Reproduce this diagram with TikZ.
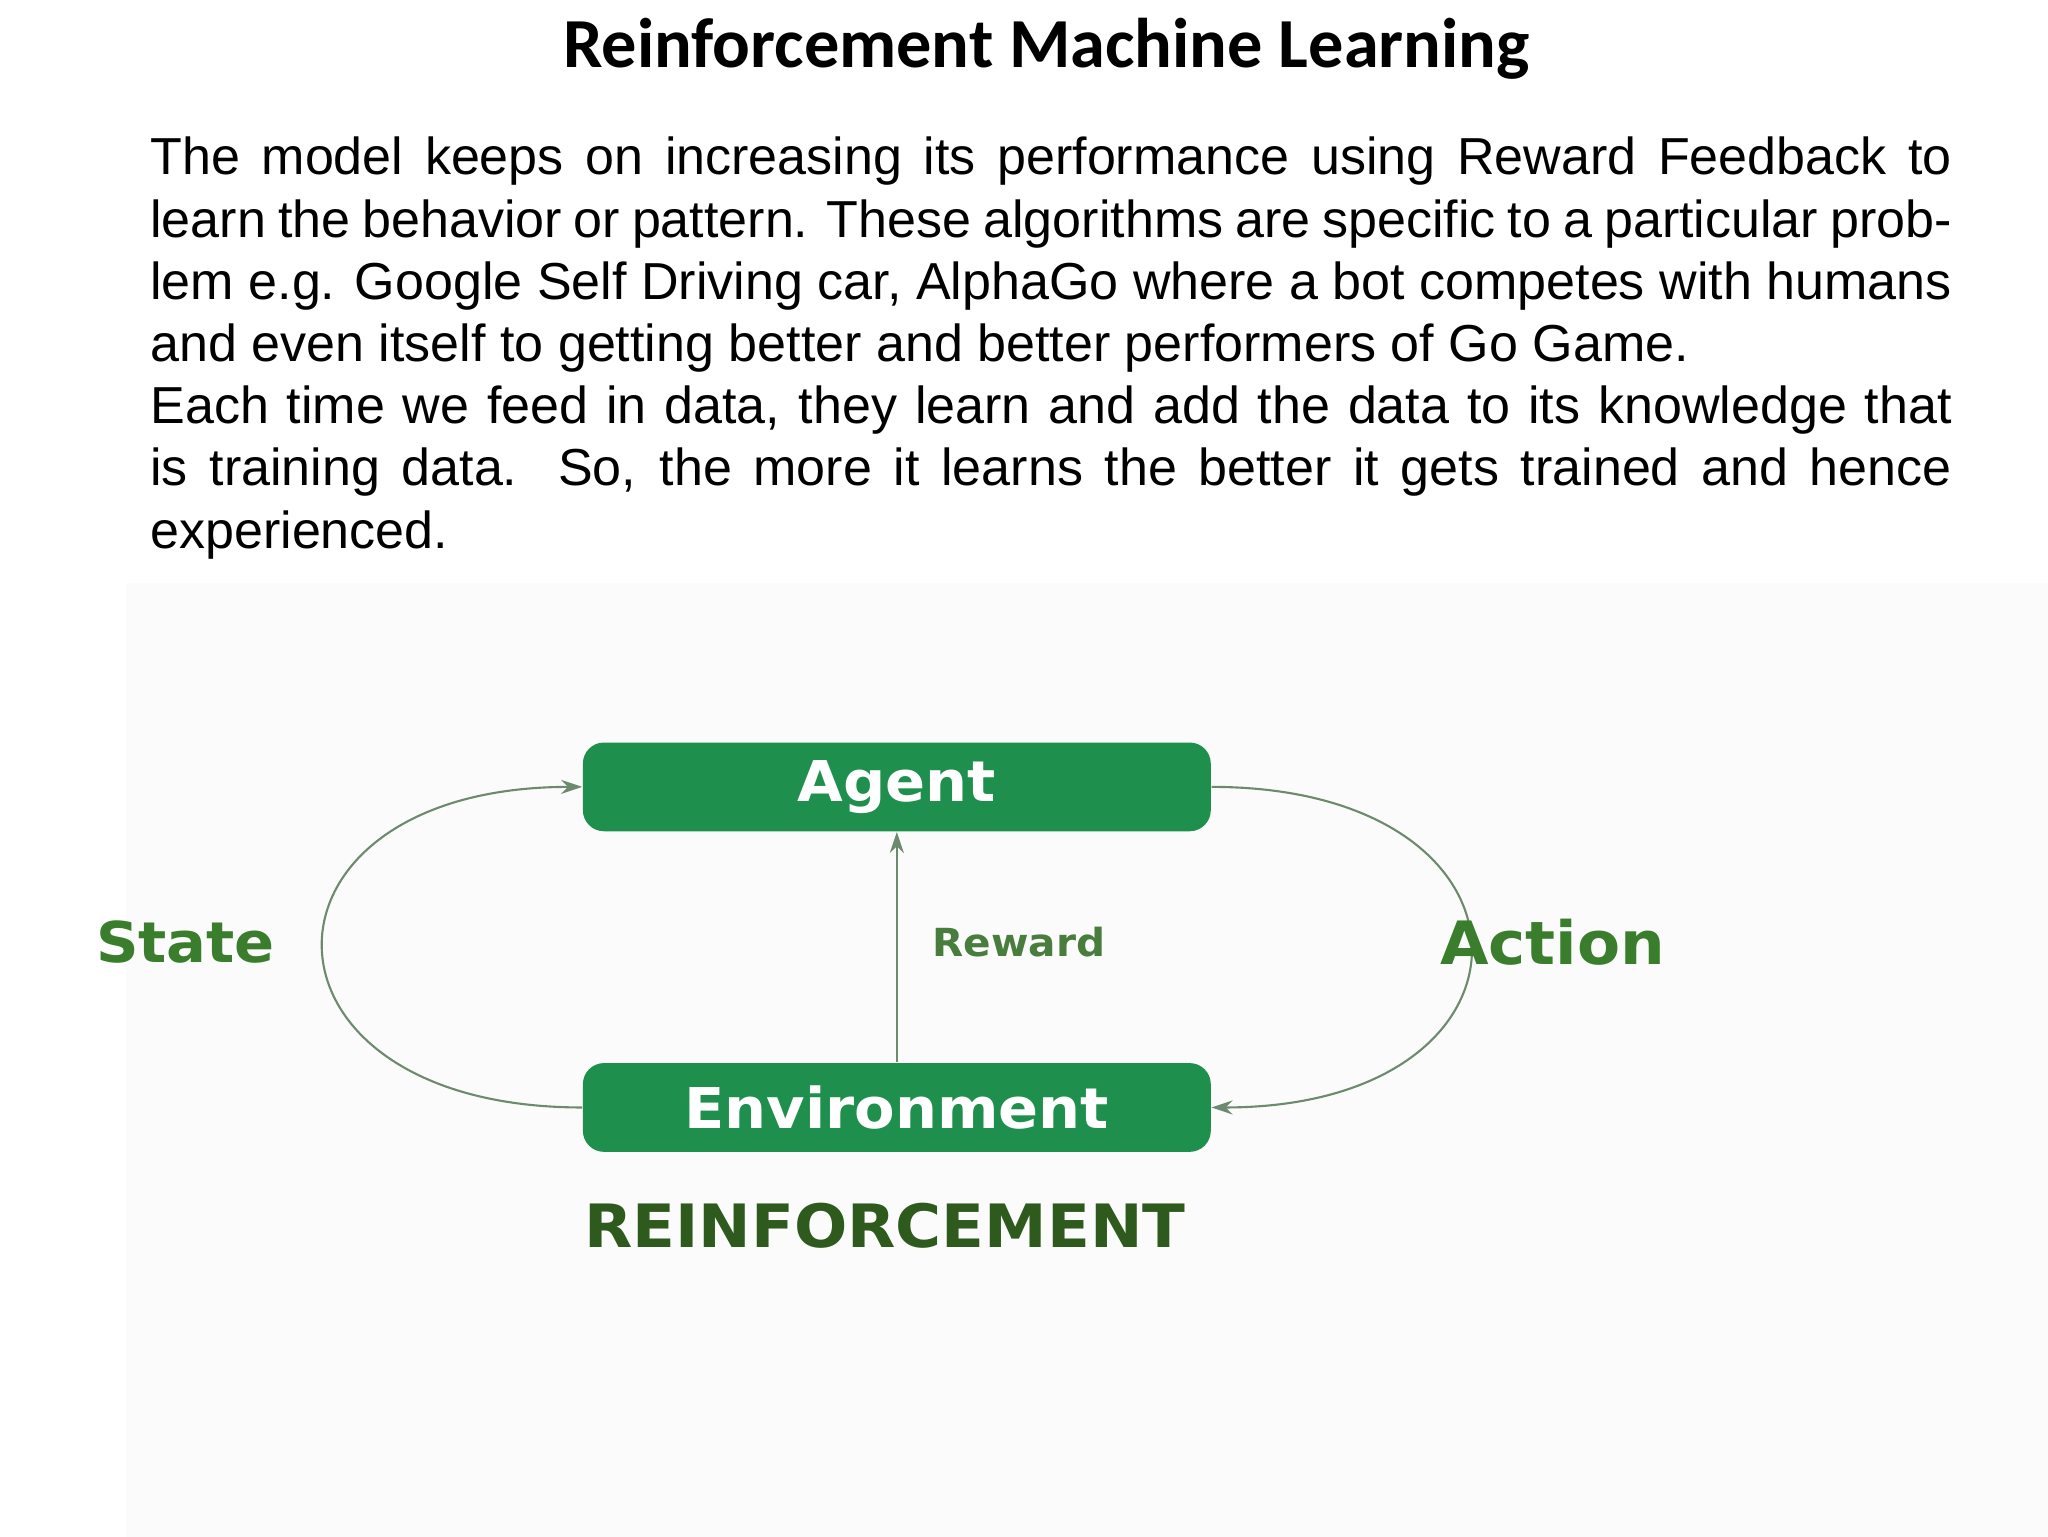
\documentclass[tikz,border=0pt]{standalone}
\usepackage{fontspec}
\setmainfont{Liberation Sans}
\newfontfamily\titlefont{Carlito}
\newfontfamily\dvb{DejaVu Sans}[FakeStretch=1.05]
\definecolor{boxgreen}{HTML}{1F8F4E}
\definecolor{lblgreen}{HTML}{3A7D2C}
\definecolor{darkgreen}{HTML}{2E5A1E}
\definecolor{arcgrey}{HTML}{6E8A6E}
\usetikzlibrary{arrows.meta}
\tikzset{
  gbox/.style={fill=boxgreen, rounded corners=6pt, minimum width=474*0.013245cm, minimum height=67*0.013245cm, text=white, font=\dvb\bfseries\fontsize{16}{18}\selectfont},
  conn/.style={draw=arcgrey, line width=0.6pt, -{Stealth[length=6pt,width=4pt]}},
  lbl/.style={text=lblgreen, font=\dvb\bfseries\fontsize{16}{18}\selectfont}
}
\begin{document}
\begin{tikzpicture}[x=0.013245cm,y=-0.013245cm]
\useasboundingbox[fill=white] (0,0) rectangle (1546,1160);
\fill[black!1.5] (95,440) rectangle (1546,1160);
\node[font=\titlefont\bfseries\fontsize{20}{24}\selectfont] (title) at (790,37) {Reinforcement Machine Learning};
\node[anchor=north west, text width=18.01cm, align=justify, inner sep=0pt, font=\fontsize{14.8}{17.7}\selectfont] (para) at (113,103)
{The model keeps on increasing its performance using Reward Feedback to learn the behavior or pattern. These algorithms are specific to a particular problem e.g. Google Self Driving car, AlphaGo where a bot competes with humans and even itself to getting better and better performers of Go Game.\par
Each time we feed in data, they learn and add the data to its knowledge that is training data. So, the more it learns the better it gets trained and hence experienced.};
\node[gbox] (agent) at (677,594) {Agent};
\node[gbox] (env) at (677,836) {Environment};
\draw[conn] (env.north) -- (agent.south);
\draw[conn] (env.west) .. controls (179,836) and (179,594) .. (agent.west);
\draw[conn] (agent.east) .. controls (1175,594) and (1175,836) .. (env.east);
\node[text=lblgreen!80!gray, font=\dvb\bfseries\fontsize{11}{13}\selectfont] (rew) at (769,711) {Reward};
\node[lbl] (state) at (140,711) {State};
\node[lbl, font=\dvb\bfseries\fontsize{17}{19}\selectfont] (action) at (1172,711) {Action};
\node[text=darkgreen, font=\dvb\bfseries\fontsize{17}{19}\selectfont] (rein) at (668,925) {REINFORCEMENT};
\end{tikzpicture}
\end{document}
